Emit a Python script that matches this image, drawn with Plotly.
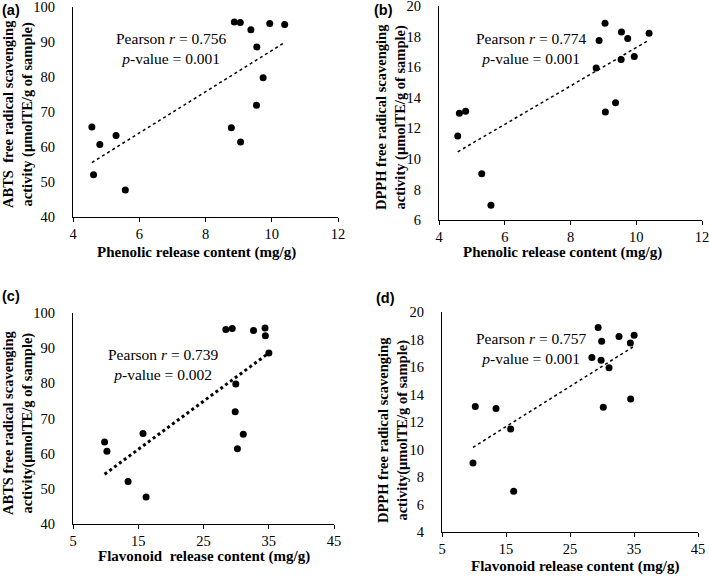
import numpy as np
import plotly.graph_objects as go

W, H = 709, 576

# Per-sample data (15 samples)
phenolic = [4.57, 4.62, 4.81, 5.30, 5.58, 8.78, 8.87, 9.05, 9.06, 9.37, 9.55, 9.54, 9.74, 9.94, 10.39]
flavonoid = [15.73, 13.44, 10.20, 9.84, 16.20, 31.10, 34.43, 29.40, 30.20, 34.48, 35.02, 29.86, 29.95, 28.42, 32.66]
abts = [65.7, 52.1, 60.7, 63.3, 47.7, 65.5, 95.7, 95.6, 61.4, 93.5, 88.6, 71.9, 79.8, 95.3, 95.0]
dpph = [11.5, 12.98, 13.12, 9.02, 6.97, 15.94, 17.75, 18.87, 13.07, 13.67, 18.3, 16.5, 17.88, 16.7, 18.21]

panel_labels = ["(a)", "(b)", "(c)", "(d)"]
stats_text = [
    ("0.756", "0.001"),
    ("0.774", "0.001"),
    ("0.739", "0.002"),
    ("0.757", "0.001"),
]
x_titles = ["Phenolic release content (mg/g)", "Phenolic release content (mg/g)",
            "Flavonoid  release content (mg/g)", "Flavonoid release content (mg/g)"]
y_titles = ["ABTS  free radical scavenging<br>activity (μmolTE/g of sample)",
            "DPPH free radical scavenging<br>activity (μmolTE/g of sample)",
            "ABTS free radical scavenging<br>activity(μmolTE/g of sample)",
            "DPPH free radical scavenging<br>activity(μmolTE/g of sample)"]
x_ranges = [[4, 12], [4, 12], [5, 45], [5, 45]]
y_ranges = [[40, 100], [6, 20], [40, 100], [4, 20]]
x_tick0 = [4, 4, 5, 5]
x_dticks = [2, 2, 10, 10]
y_dticks = [10, 2, 10, 2]

panels_xy = [(phenolic, abts), (phenolic, dpph), (flavonoid, abts), (flavonoid, dpph)]

# pixel boxes in the window (left, right, top, bottom)
boxes = [(73, 338, 7, 217), (439, 702, 6, 220), (73, 334, 313, 524), (442, 698, 312, 532)]
stat_pos = [(171, 48), (531, 48), (163, 364), (531, 348)]
xt_pos = [(196, 252), (562, 252), (204, 556), (575, 566)]
yt_pos = [(18, 114), (391, 117), (18, 423), (393, 430)]
lab_pos = [(0, 10), (372, 10), (0, 296), (374, 298)]
trend_w = [1.5, 1.5, 3, 1.5]


def px(x):
    return min(1.0, max(0.0, x / W))


def py(y):
    return min(1.0, max(0.0, 1 - y / H))


fig = go.Figure()
serif = "Liberation Serif"
annotations = []
for i in range(4):
    xs, ys = panels_xy[i]
    xa = "x" if i == 0 else f"x{i+1}"
    ya = "y" if i == 0 else f"y{i+1}"
    fig.add_trace(go.Scatter(x=xs, y=ys, mode="markers", xaxis=xa, yaxis=ya, cliponaxis=False,
                             marker=dict(color="black", size=7), showlegend=False))
    k, b = np.polyfit(xs, ys, 1)
    lx = [min(xs), max(xs)]
    fig.add_trace(go.Scatter(x=lx, y=[k * v + b for v in lx], mode="lines", xaxis=xa, yaxis=ya,
                             line=dict(color="black", width=trend_w[i], dash="dot"), showlegend=False))
    l, r, t, btm = boxes[i]
    axkey = "xaxis" if i == 0 else f"xaxis{i+1}"
    aykey = "yaxis" if i == 0 else f"yaxis{i+1}"
    tickaxkey = f"yaxis{i+5}"
    base = dict(showgrid=False, zeroline=False, automargin=False, ticklabeloverflow="allow",
                tickfont=dict(family=serif, size=14.5, color="black"))
    fig.update_layout(**{
        axkey: dict(domain=[px(l), px(r)], range=x_ranges[i], tick0=x_tick0[i], dtick=x_dticks[i],
                    anchor=ya, showline=True, linecolor="black", linewidth=1,
                    ticks="outside", ticklen=4, tickcolor="black", **base),
        # labelled y axis: long transparent ticks push the labels away from the axis line
        aykey: dict(domain=[py(btm), py(t)], range=y_ranges[i], dtick=y_dticks[i], anchor=xa,
                    showline=True, linecolor="black", linewidth=1,
                    ticks="outside", ticklen=14, tickcolor="rgba(0,0,0,0)", **base),
        # overlay y axis: only the short black tick marks
        tickaxkey: dict(overlaying=ya, anchor=xa, side="left", range=y_ranges[i], dtick=y_dticks[i],
                        showline=False, showticklabels=False, ticks="outside", ticklen=4,
                        tickcolor="black", **base),
    })
    rv, pv = stats_text[i]
    annotations.append(dict(x=px(stat_pos[i][0]), y=py(stat_pos[i][1]), xref="paper", yref="paper",
                            xanchor="center", yanchor="middle",
                            text=f"Pearson <i>r</i> = {rv}<br><i>p</i>-value = {pv}", showarrow=False,
                            font=dict(family=serif, size=15.5, color="black"), align="center"))
    annotations.append(dict(x=px(xt_pos[i][0]), y=py(xt_pos[i][1]), xref="paper", yref="paper",
                            xanchor="center", yanchor="middle",
                            text=f"<b>{x_titles[i]}</b>", showarrow=False,
                            font=dict(family=serif, size=15, color="black")))
    annotations.append(dict(x=px(yt_pos[i][0]), y=py(yt_pos[i][1]), xref="paper", yref="paper",
                            xanchor="center", yanchor="middle",
                            text=f"<b>{y_titles[i]}</b>", showarrow=False, textangle=-90,
                            font=dict(family=serif, size=14.5, color="black")))
    annotations.append(dict(x=px(lab_pos[i][0]), y=py(lab_pos[i][1]), xref="paper", yref="paper",
                            xanchor="left", yanchor="middle", text=f"<b>{panel_labels[i]}</b>", showarrow=False,
                            font=dict(family="Liberation Sans", size=14.5, color="black")))

fig.update_layout(width=W, height=H, margin=dict(l=0, r=0, t=0, b=0, autoexpand=False),
                  paper_bgcolor="white", plot_bgcolor="white", annotations=annotations)
fig.write_html("out.html", config={"displayModeBar": False},
               post_script="document.body.style.margin='0px';document.body.style.overflow='hidden';")
